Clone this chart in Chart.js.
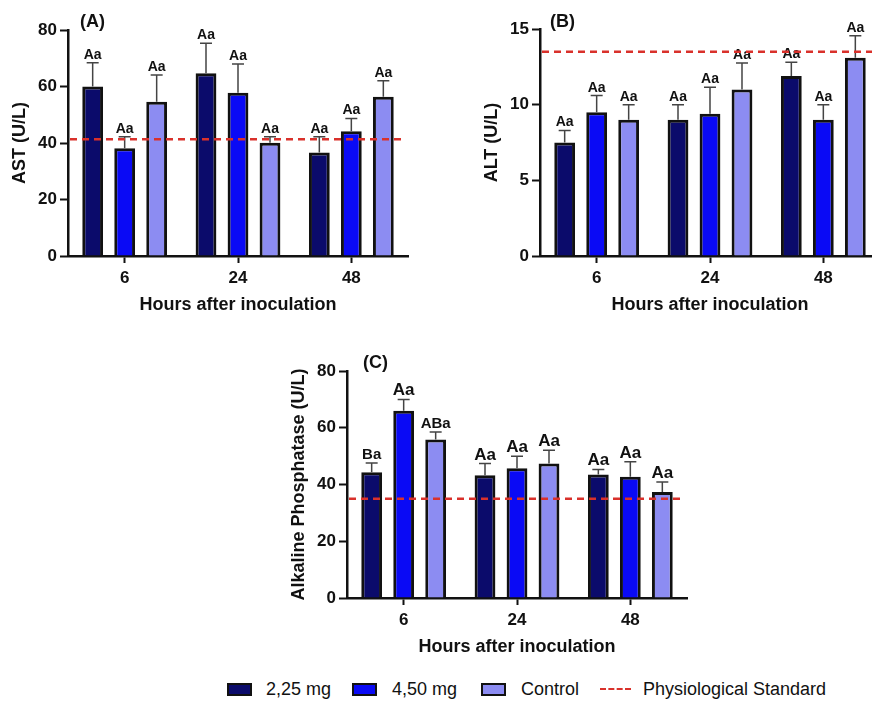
<!DOCTYPE html>
<html>
<head>
<meta charset="utf-8">
<script src="https://cdn.jsdelivr.net/npm/chart.js@4.4.1/dist/chart.umd.min.js"></script>
<style>
  body { margin: 0; width: 872px; height: 704px; overflow: hidden; position: relative; background: #fff;
         font-family: 'Liberation Sans', Arial, sans-serif; color: #111; }
  canvas { position: absolute; }
  .panel { position: absolute; font-weight: bold; font-size: 18px; line-height: 20px; }
  .leg { position: absolute; top: 678px; font-size: 18px; line-height: 22px; white-space: nowrap; }
  .box { position: absolute; top: 683px; width: 21px; height: 9px; border: 2px solid #111; }
  .dash { position: absolute; top: 688px; width: 31px; height: 0; border-top: 2.5px dashed #d9312b; }
</style>
</head>
<body>
<canvas id="astChart" width="430" height="320" style="left:0;top:0"></canvas>
<canvas id="altChart" width="460" height="320" style="left:430px;top:0"></canvas>
<canvas id="alpChart" width="440" height="322" style="left:270px;top:340px"></canvas>

<div class="panel" style="left:80px;top:11px">(A)</div>
<div class="panel" style="left:550px;top:11px">(B)</div>
<div class="panel" style="left:363px;top:352px">(C)</div>

<div class="box" style="left:227px;background:#0b0b6b"></div>
<div class="leg" style="left:266px">2,25 mg</div>
<div class="box" style="left:352px;background:#0a0af5"></div>
<div class="leg" style="left:392px">4,50 mg</div>
<div class="box" style="left:481px;background:#8c8cf2"></div>
<div class="leg" style="left:521px">Control</div>
<div class="dash" style="left:600px"></div>
<div class="leg" style="left:643px">Physiological Standard</div>

<script>
// Data
const hours = ['6', '24', '48'];
const groupNames = ['2,25 mg', '4,50 mg', 'Control'];

// AST (U/L)
const astLow = [60.0, 64.7, 36.6];
const astMid = [38.1, 57.8, 44.2];
const astCtrl = [54.6, 40.1, 56.4];
const astLowSd = [8.4, 10.6, 5.6];
const astMidSd = [4.1, 10.2, 4.5];
const astCtrlSd = [9.5, 2.1, 5.6];
const astLetters = [['Aa', 'Aa', 'Aa'], ['Aa', 'Aa', 'Aa'], ['Aa', 'Aa', 'Aa']];
const astStandard = 41.3;

// ALT (U/L)
const altLow = [7.5, 9.0, 11.9];
const altMid = [9.5, 9.4, 9.0];
const altCtrl = [9.0, 11.0, 13.1];
const altLowSd = [0.8, 1.0, 0.9];
const altMidSd = [1.1, 1.75, 1.0];
const altCtrlSd = [1.0, 1.75, 1.45];
const altLetters = [['Aa', 'Aa', 'Aa'], ['Aa', 'Aa', 'Aa'], ['Aa', 'Aa', 'Aa']];
const altStandard = 13.5;

// Alkaline Phosphatase (U/L)
const alpLow = [44.3, 43.3, 43.5];
const alpMid = [66.0, 45.7, 42.7];
const alpCtrl = [55.9, 47.4, 37.4];
const alpLowSd = [3.3, 4.1, 1.8];
const alpMidSd = [4.0, 4.3, 5.3];
const alpCtrlSd = [2.6, 4.7, 3.5];
const alpLetters = [['Ba', 'Aa', 'Aa'], ['Aa', 'Aa', 'Aa'], ['ABa', 'Aa', 'Aa']];
const alpStandard = 35;

const barColors = ['#0b0b6b', '#0a0af5', '#8c8cf2'];
const fontFamily = "'Liberation Sans', Arial, sans-serif";
Chart.defaults.font.family = fontFamily;
Chart.defaults.color = '#111';

// error bars, letters and the dashed reference line
const extrasPlugin = {
  id: 'extras',
  afterDatasetsDraw(chart, args, opts) {
    const { ctx, chartArea, scales: { y } } = chart;
    ctx.save();
    chart.data.datasets.forEach((ds, i) => {
      chart.getDatasetMeta(i).data.forEach((bar, j) => {
        const top = y.getPixelForValue(ds.data[j] + opts.errors[i][j]);
        ctx.strokeStyle = '#444';
        ctx.lineWidth = 1.5;
        ctx.beginPath();
        ctx.moveTo(bar.x, bar.y);
        ctx.lineTo(bar.x, top);
        ctx.moveTo(bar.x - 6, top);
        ctx.lineTo(bar.x + 6, top);
        ctx.stroke();

        const label = opts.letters[i][j];
        const size = label.includes('B') ? opts.smallSize : opts.letterSize;
        ctx.font = 'bold ' + size + 'px ' + fontFamily;
        ctx.fillStyle = '#111';
        ctx.textAlign = 'center';
        ctx.textBaseline = 'alphabetic';
        ctx.fillText(label, bar.x, top - 4);
      });
    });
    const ys = y.getPixelForValue(opts.standard);
    ctx.setLineDash([7, 5]);
    ctx.strokeStyle = '#d9312b';
    ctx.lineWidth = 2.5;
    ctx.beginPath();
    ctx.moveTo(chartArea.left + 2, ys);
    ctx.lineTo(chartArea.right - 2, ys);
    ctx.stroke();
    ctx.restore();
  }
};

function makePanel(id, cfg) {
  const series = [cfg.low, cfg.mid, cfg.ctrl];
  return new Chart(document.getElementById(id), {
    type: 'bar',
    data: {
      labels: hours,
      datasets: series.map((d, i) => ({
        label: groupNames[i],
        data: d,
        backgroundColor: barColors[i],
        borderColor: '#111',
        borderWidth: 3,
        categoryPercentage: 0.847,
        barPercentage: 0.65
      }))
    },
    options: {
      responsive: false,
      animation: false,
      layout: { padding: cfg.padding },
      plugins: {
        legend: { display: false },
        tooltip: { enabled: false },
        extras: {
          errors: cfg.sd,
          letters: cfg.letters,
          standard: cfg.standard,
          letterSize: cfg.letterSize,
          smallSize: cfg.smallSize
        }
      },
      scales: {
        x: {
          afterFit: s => { s.height = cfg.xHeight; },
          grid: { offset: false, drawOnChartArea: false, tickLength: 7, tickColor: '#111', tickWidth: 2 },
          border: { color: '#111', width: 2.5 },
          ticks: { padding: 5, font: { size: 17, weight: 'bold' }, color: '#111' },
          title: { display: true, text: 'Hours after inoculation', padding: { top: 4, bottom: 4 },
                   font: { size: 18, weight: 'bold' }, color: '#111' }
        },
        y: {
          min: 0,
          max: cfg.yMax,
          afterFit: s => { s.width = 68; },
          grid: { drawOnChartArea: false, tickLength: 8, tickColor: '#111', tickWidth: 2 },
          border: { color: '#111', width: 2.5 },
          ticks: { stepSize: cfg.yStep, padding: 3, font: { size: 17, weight: 'bold' }, color: '#111' },
          title: { display: true, text: cfg.yTitle, padding: { top: 9, bottom: 0 },
                   font: { size: 18, weight: 'bold' }, color: '#111' }
        }
      }
    },
    plugins: [extrasPlugin]
  });
}

makePanel('astChart', {
  low: astLow, mid: astMid, ctrl: astCtrl,
  sd: [astLowSd, astMidSd, astCtrlSd], letters: astLetters, standard: astStandard,
  yMax: 80, yStep: 20, yTitle: 'AST (U/L)',
  padding: { left: 0, top: 30, right: 22, bottom: 0 }, xHeight: 64,
  letterSize: 14, smallSize: 14
});

makePanel('altChart', {
  low: altLow, mid: altMid, ctrl: altCtrl,
  sd: [altLowSd, altMidSd, altCtrlSd], letters: altLetters, standard: altStandard,
  yMax: 15, yStep: 5, yTitle: 'ALT (U/L)',
  padding: { left: 42, top: 29, right: 10, bottom: 0 }, xHeight: 64,
  letterSize: 14, smallSize: 14
});

makePanel('alpChart', {
  low: alpLow, mid: alpMid, ctrl: alpCtrl,
  sd: [alpLowSd, alpMidSd, alpCtrlSd], letters: alpLetters, standard: alpStandard,
  yMax: 80, yStep: 20, yTitle: 'Alkaline Phosphatase (U/L)',
  padding: { left: 9, top: 31, right: 23, bottom: 0 }, xHeight: 64,
  letterSize: 17, smallSize: 15
});
</script>
</body>
</html>
